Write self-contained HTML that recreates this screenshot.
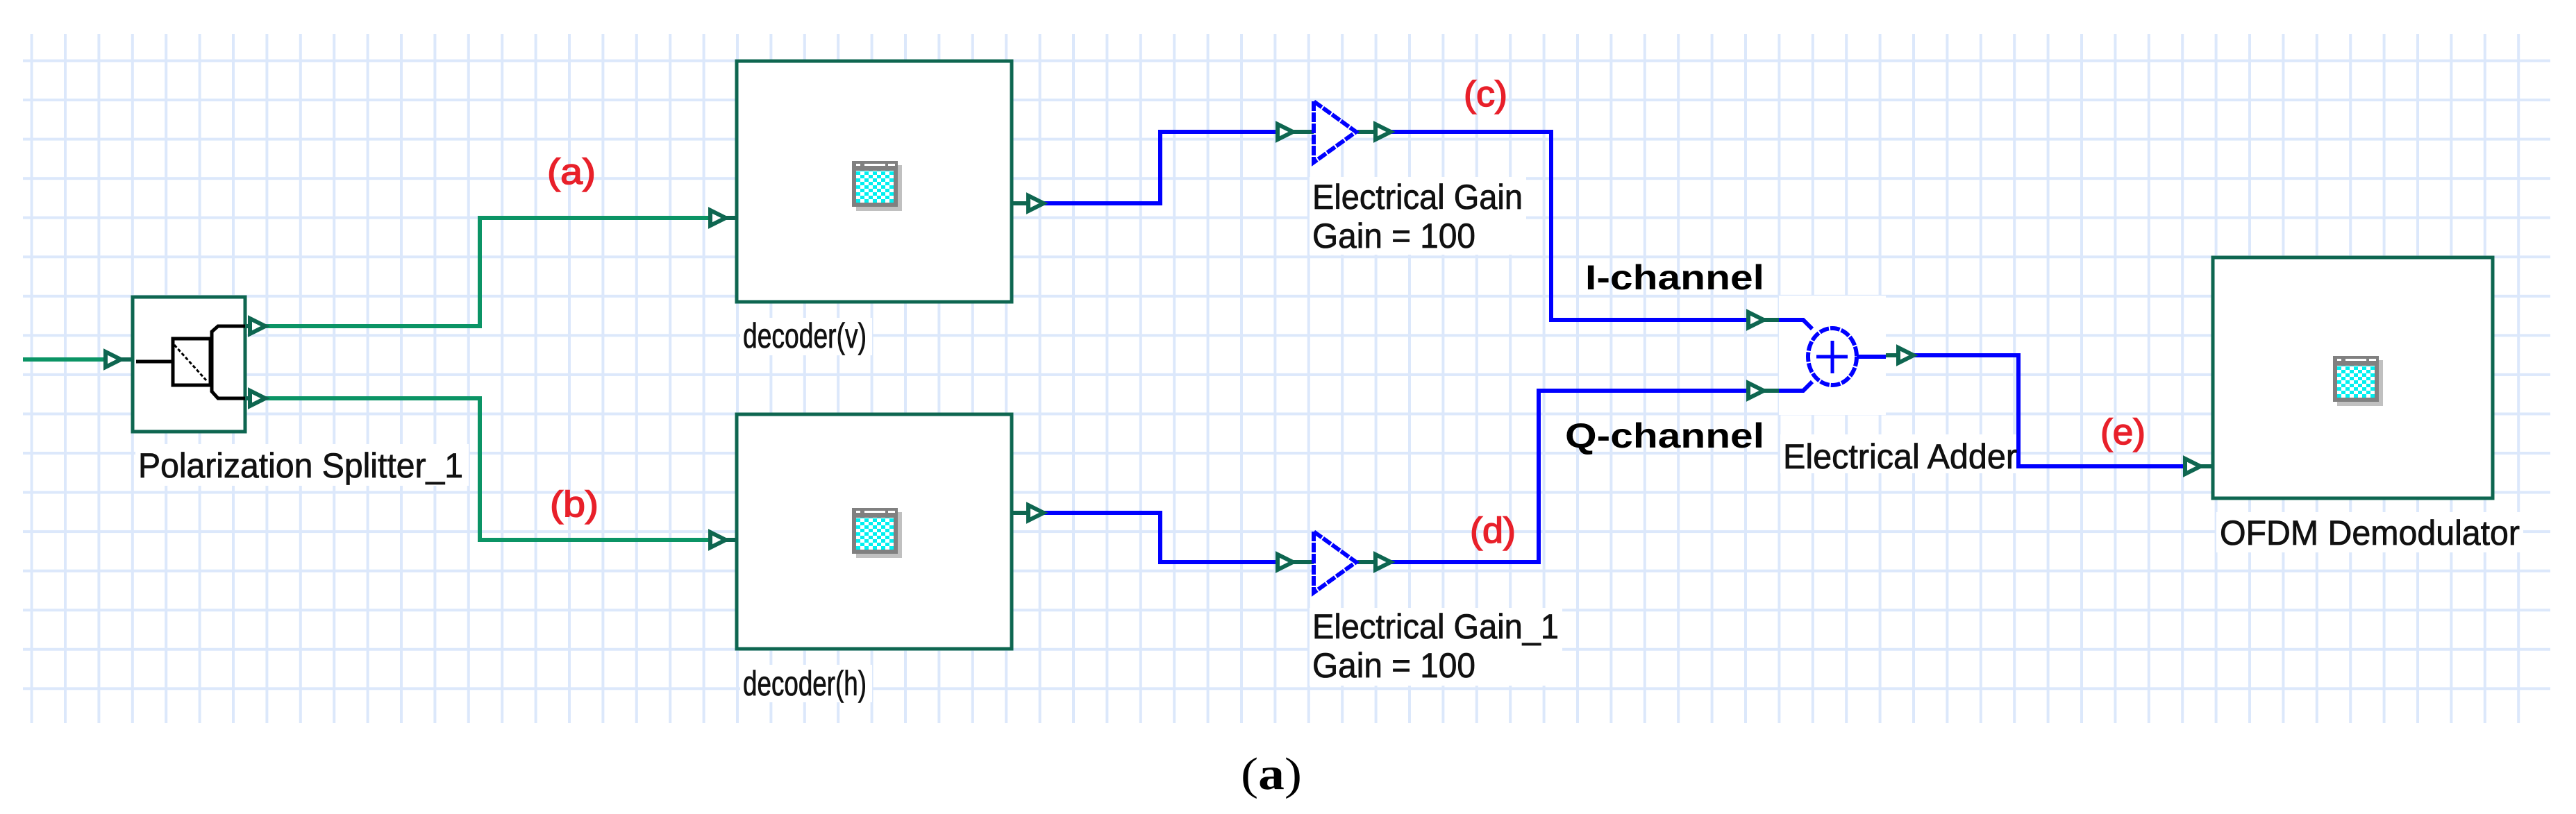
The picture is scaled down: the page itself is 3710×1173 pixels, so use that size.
<!DOCTYPE html>
<html><head><meta charset="utf-8"><style>
html,body{margin:0;padding:0;background:#fff;}
svg{display:block;}
text{font-family:"Liberation Sans",sans-serif;}
</style></head><body>
<svg width="3710" height="1173" viewBox="0 0 3710 1173" xmlns="http://www.w3.org/2000/svg">
<defs>
<pattern id="grid" patternUnits="userSpaceOnUse" x="45.6" y="87.5" width="48.4" height="56.55">
<rect x="-2" y="0" width="4" height="56.55" fill="#dce8fb"/>
<rect x="46.4" y="0" width="4" height="56.55" fill="#dce8fb"/>
<rect x="0" y="-2" width="48.4" height="4" fill="#dce8fb"/>
<rect x="0" y="54.55" width="48.4" height="4" fill="#dce8fb"/>
</pattern>
<g id="ar"><polygon points="3,-11 3,11 25,0" fill="#fff" stroke="#0e6650" stroke-width="6"/></g>
<pattern id="chk" patternUnits="userSpaceOnUse" width="12" height="10">
<rect width="12" height="10" fill="#fff"/><rect width="6" height="5" fill="#00f0f0"/><rect x="6" y="5" width="6" height="5" fill="#00f0f0"/>
</pattern>
<g id="icon">
<rect x="6" y="6" width="66" height="66" fill="#c0c0c0"/>
<rect x="0" y="0" width="66" height="66" fill="#808080"/>
<rect x="6" y="4" width="6" height="3" fill="#fff"/><rect x="18" y="4" width="30" height="3" fill="#fff"/><rect x="52" y="4" width="10" height="3" fill="#fff"/>
<rect x="6" y="14" width="54" height="46" fill="url(#chk)"/>
</g>
</defs>
<rect x="33" y="49" width="3640" height="993" fill="url(#grid)"/>

<rect x="195" y="640" width="480" height="60" fill="#fff"/>
<rect x="1066" y="458" width="190" height="54" fill="#fff"/>
<rect x="1066" y="958" width="190" height="54" fill="#fff"/>
<rect x="1886" y="255" width="312" height="112" fill="#fff"/>
<rect x="1886" y="876" width="364" height="112" fill="#fff"/>
<rect x="2562" y="426" width="154" height="172" fill="#fff"/>
<rect x="2564" y="626" width="344" height="56" fill="#fff"/>
<rect x="3192" y="738" width="442" height="58" fill="#fff"/>

<g stroke="#0b9465" stroke-width="6" fill="none">
<polyline points="33,518 152,518"/>
<polyline points="378,470 691,470 691,314 1022,314"/>
<polyline points="378,574 691,574 691,778 1022,778"/>
</g>
<g stroke="#0e6650" stroke-width="6" fill="none">
<line x1="170" y1="518" x2="190" y2="518"/>
<line x1="353" y1="470" x2="360" y2="470"/>
<line x1="353" y1="574" x2="360" y2="574"/>
<line x1="1042" y1="314" x2="1062" y2="314"/>
<line x1="1042" y1="778" x2="1062" y2="778"/>
<line x1="1457" y1="293" x2="1480" y2="293"/>
<line x1="1457" y1="739" x2="1480" y2="739"/>
<line x1="1858" y1="190" x2="1892" y2="190"/>
<line x1="1858" y1="810" x2="1892" y2="810"/>
<line x1="1955" y1="190" x2="1980" y2="190"/>
<line x1="1955" y1="810" x2="1980" y2="810"/>
<line x1="2537" y1="461" x2="2562" y2="461"/>
<line x1="2537" y1="563" x2="2562" y2="563"/>
<line x1="2716" y1="512" x2="2733" y2="512"/>
<line x1="3165" y1="672" x2="3188" y2="672"/>
</g>

<g stroke="#0000ff" stroke-width="6" fill="none">
<polyline points="1500,293 1671,293 1671,190 1840,190"/>
<polyline points="1500,739 1671,739 1671,810 1840,810"/>
<polyline points="2004,190 2234,190 2234,461 2517,461"/>
<polyline points="2004,810 2216,810 2216,563 2517,563"/>
<polyline points="2756,512 2907,512 2907,672 3146,672"/>
<polyline points="2562,461 2597,461 2610,474"/>
<polyline points="2562,563 2597,563 2610,550"/>
<polyline points="2674,514 2716,514"/>
</g>

<rect x="191" y="428" width="162" height="194" fill="#fff" stroke="#0e6650" stroke-width="5"/>
<g stroke="#000" stroke-width="5" fill="none">
<line x1="196" y1="521" x2="249" y2="521"/>
<rect x="249" y="488" width="54" height="67"/>
<line x1="251" y1="497" x2="297" y2="548" stroke-width="3" stroke-dasharray="5,3"/>
<polyline points="353,470 314,470 305,478 305,564 314,574 353,574"/>
</g>

<rect x="1061" y="88" width="396" height="347" fill="#fff" stroke="#0e6650" stroke-width="5"/>
<rect x="1061" y="597" width="396" height="338" fill="#fff" stroke="#0e6650" stroke-width="5"/>
<use href="#icon" x="1227" y="232"/>
<use href="#icon" x="1227" y="732"/>

<rect x="3187" y="371" width="403" height="347" fill="#fff" stroke="#0e6650" stroke-width="5"/>
<use href="#icon" x="3360" y="513"/>

<g fill="#fff" stroke="#0000ff" stroke-width="6" stroke-dasharray="14,2">
<polygon points="1892,146 1892,234 1953,190"/>
<polygon points="1892,766 1892,854 1953,810"/>
<ellipse cx="2639" cy="514" rx="35" ry="41"/>
</g>
<g stroke="#0000ff" stroke-width="5">
<line x1="2616" y1="514" x2="2661" y2="514"/>
<line x1="2639" y1="491" x2="2639" y2="538"/>
</g>

<use href="#ar" x="149" y="518"/>
<use href="#ar" x="357" y="470"/>
<use href="#ar" x="357" y="574"/>
<use href="#ar" x="1020" y="314"/>
<use href="#ar" x="1020" y="778"/>
<use href="#ar" x="1478" y="293"/>
<use href="#ar" x="1478" y="739"/>
<use href="#ar" x="1837" y="190"/>
<use href="#ar" x="1837" y="810"/>
<use href="#ar" x="1978" y="190"/>
<use href="#ar" x="1978" y="810"/>
<use href="#ar" x="2515" y="461"/>
<use href="#ar" x="2515" y="563"/>
<use href="#ar" x="2731" y="512"/>
<use href="#ar" x="3144" y="672"/>

<g fill="#111" font-size="50" stroke="#111" stroke-width="0.8">
<text x="199" y="688" textLength="468" lengthAdjust="spacingAndGlyphs">Polarization Splitter_1</text>
<text x="1070" y="501" textLength="178" lengthAdjust="spacingAndGlyphs">decoder(v)</text>
<text x="1070" y="1002" textLength="178" lengthAdjust="spacingAndGlyphs">decoder(h)</text>
<text x="1890" y="301" textLength="303" lengthAdjust="spacingAndGlyphs">Electrical Gain</text>
<text x="1890" y="357" textLength="235" lengthAdjust="spacingAndGlyphs">Gain = 100</text>
<text x="1890" y="920" textLength="355" lengthAdjust="spacingAndGlyphs">Electrical Gain_1</text>
<text x="1890" y="976" textLength="235" lengthAdjust="spacingAndGlyphs">Gain = 100</text>
<text x="2568" y="675" textLength="337" lengthAdjust="spacingAndGlyphs">Electrical Adder</text>
<text x="3197" y="785" textLength="432" lengthAdjust="spacingAndGlyphs">OFDM Demodulator</text>
</g>
<g fill="#000" font-size="50" font-weight="bold">
<text x="2283" y="417" textLength="258" lengthAdjust="spacingAndGlyphs">I-channel</text>
<text x="2254" y="645" textLength="287" lengthAdjust="spacingAndGlyphs">Q-channel</text>
</g>
<g fill="#e8202a" font-size="52" stroke="#e8202a" stroke-width="1.5">
<text x="788" y="265" textLength="70" lengthAdjust="spacingAndGlyphs">(a)</text>
<text x="792" y="744" textLength="70" lengthAdjust="spacingAndGlyphs">(b)</text>
<text x="2108" y="153" textLength="63" lengthAdjust="spacingAndGlyphs">(c)</text>
<text x="2117" y="782" textLength="66" lengthAdjust="spacingAndGlyphs">(d)</text>
<text x="3025" y="640" textLength="65" lengthAdjust="spacingAndGlyphs">(e)</text>
</g>
<text x="1787" y="1137" style="font-family:'Liberation Serif',serif;font-size:66px" textLength="88" lengthAdjust="spacingAndGlyphs">(<tspan style="font-weight:bold">a</tspan>)</text>
</svg>
</body></html>
